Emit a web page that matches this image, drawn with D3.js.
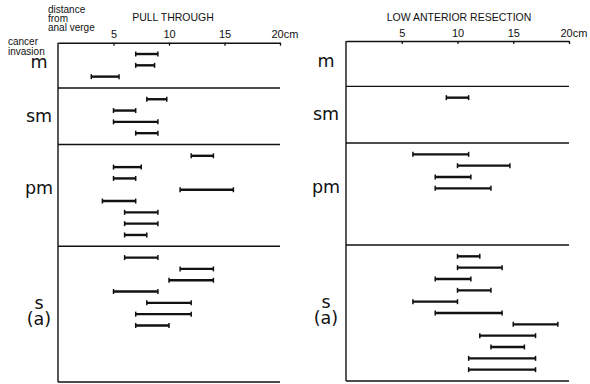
<!DOCTYPE html>
<html>
<head>
<meta charset="utf-8">
<script src="https://cdn.jsdelivr.net/npm/d3@7"></script>
<style>
  body { margin: 0; background: #fff; }
  svg text { fill: #111; }
</style>
</head>
<body>
<div id="chart"></div>
<script>
// ---- data (cm from anal verge) ----
const groups = ["m", "sm", "pm", "s"];
const groupRows = [4, 5, 9, 12];          // rows reserved per invasion depth
const tickValues = [5, 10, 15, 20];

// pull through
const ptGroup = ["m", "m", "m",
  "sm", "sm", "sm", "sm",
  "pm", "pm", "pm", "pm", "pm", "pm", "pm", "pm",
  "s", "s", "s", "s", "s", "s", "s"];
const ptStart = [7, 7, 3,
  8, 5, 5, 7,
  12, 5, 5, 11, 4, 6, 6, 6,
  6, 11, 10, 5, 8, 7, 7];
const ptEnd = [9, 8.7, 5.5,
  9.8, 7, 9, 9,
  14, 7.5, 7, 15.8, 7, 9, 9, 8,
  9, 14, 14, 9, 12, 12, 10];

// low anterior resection
const larGroup = ["sm",
  "pm", "pm", "pm", "pm",
  "s", "s", "s", "s", "s", "s", "s", "s", "s", "s", "s"];
const larStart = [9,
  6, 10, 8, 8,
  10, 10, 8, 10, 6, 8, 15, 12, 13, 11, 11];
const larEnd = [11,
  11, 14.7, 11.2, 13,
  12, 14, 11.2, 13, 10, 14, 19, 17, 16, 17, 17];

// ---- layout ----
const width = 590, height = 384;
const labelRow = [2.25, 3.0, 4.4, 5.55];  // baseline of depth label, in row units

const svg = d3.select("#chart").append("svg")
  .attr("width", width)
  .attr("height", height)
  .style("font-family", "'Liberation Sans', Arial, sans-serif");

const panels = [
  { title: "PULL THROUGH", titleX: 173, x0: 58, x1: 280, y0: 42.7, y1: 382, labelX: 39,
    group: ptGroup, start: ptStart, end: ptEnd },
  { title: "LOW ANTERIOR RESECTION", titleX: 459, x0: 346, x1: 569, y0: 41, y1: 381, labelX: 326,
    group: larGroup, start: larStart, end: larEnd }
];

const totalRows = d3.sum(groupRows);
const groupOffset = d3.cumsum([0].concat(groupRows));   // start row of each group

panels.forEach(p => {
  const x = d3.scaleLinear().domain([0, 20]).range([p.x0, p.x1]);
  const y = d3.scaleLinear().domain([0, totalRows]).range([p.y0, p.y1]);
  const g = svg.append("g");

  // top axis
  const axis = d3.axisTop(x)
    .tickValues(tickValues)
    .tickSizeInner(-3)
    .tickSizeOuter(0)
    .tickPadding(4.5)
    .tickFormat(d => d === 20 ? "20cm" : d);
  const ax = g.append("g")
    .attr("transform", `translate(0,${p.y0})`)
    .call(axis);
  ax.select(".domain").attr("stroke", "#111").attr("stroke-width", 1.4);
  ax.selectAll(".tick line").attr("stroke", "#111").attr("stroke-width", 1.3);
  ax.selectAll(".tick text")
    .style("font-size", "11px")
    .attr("fill", "#111");
  ax.selectAll(".tick text").filter(d => d === 20)
    .attr("text-anchor", "start")
    .attr("x", -9);

  // title
  g.append("text")
    .attr("x", p.titleX)
    .attr("y", 21)
    .attr("text-anchor", "middle")
    .style("font-size", "10.5px")
    .text(p.title);

  // left frame line
  g.append("line")
    .attr("x1", p.x0).attr("x2", p.x0)
    .attr("y1", p.y0).attr("y2", p.y1)
    .attr("stroke", "#111").attr("stroke-width", 1.4);

  // group dividers + bottom line
  g.selectAll(".divider")
    .data(groupOffset.slice(1))
    .join("line")
    .attr("x1", p.x0).attr("x2", x(20))
    .attr("y1", d => y(d)).attr("y2", d => y(d))
    .attr("stroke", "#111").attr("stroke-width", 1.4);

  // depth labels ("s" gets a second line "(a)")
  groups.forEach((name, i) => {
    const by = y(groupOffset[i] + labelRow[i]);
    const t = g.append("text")
      .attr("x", p.labelX)
      .attr("y", by)
      .attr("text-anchor", "middle")
      .style("font-family", "'DejaVu Sans', sans-serif")
      .style("font-size", "17.5px");
    t.append("tspan").attr("x", p.labelX).text(name);
    if (name === "s") {
      t.append("tspan").attr("x", p.labelX).attr("dy", 16).text("(a)");
    }
  });

  // bars: row index within each group
  const counter = {};
  const bars = p.group.map((grp, i) => {
    counter[grp] = (counter[grp] || 0) + 1;
    return { grp: grp, row: groupOffset[groups.indexOf(grp)] + counter[grp],
             start: p.start[i], end: p.end[i] };
  });

  g.selectAll(".bar")
    .data(bars)
    .join("line")
    .attr("x1", d => x(d.start)).attr("x2", d => x(d.end))
    .attr("y1", d => y(d.row)).attr("y2", d => y(d.row))
    .attr("stroke", "#111").attr("stroke-width", 2.4);

  const caps = bars.flatMap(d => [{ v: d.start, row: d.row }, { v: d.end, row: d.row }]);
  g.selectAll(".cap")
    .data(caps)
    .join("line")
    .attr("x1", d => x(d.v)).attr("x2", d => x(d.v))
    .attr("y1", d => y(d.row) - 2.5).attr("y2", d => y(d.row) + 2.5)
    .attr("stroke", "#111").attr("stroke-width", 1.5);
});

// corner header text, as stacked lines
const headLeft = ["distance", "from", "anal verge"];
const headCorner = ["cancer", "invasion"];

const hl = svg.append("text").attr("y", 12.5).style("font-size", "10px");
hl.selectAll("tspan").data(headLeft).join("tspan")
  .attr("x", 48)
  .attr("dy", (d, i) => i === 0 ? 0 : 9.2)
  .text(d => d);

const hc = svg.append("text").attr("y", 44.5).style("font-size", "10px");
hc.selectAll("tspan").data(headCorner).join("tspan")
  .attr("x", 8)
  .attr("dy", (d, i) => i === 0 ? 0 : 10)
  .text(d => d);
</script>
</body>
</html>
